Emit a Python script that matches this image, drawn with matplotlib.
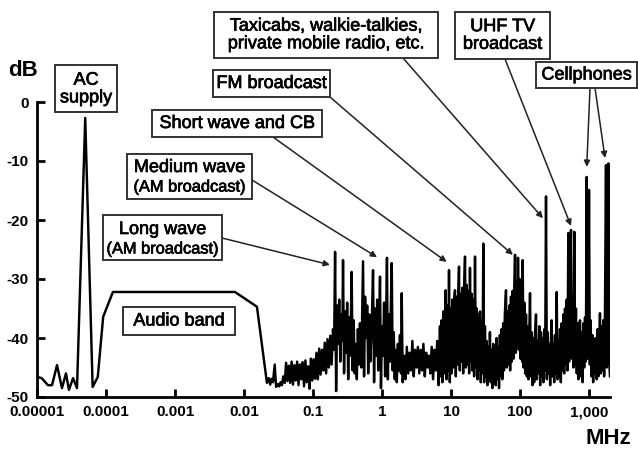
import numpy as np
import matplotlib
matplotlib.use("Agg")
import matplotlib.pyplot as plt
import matplotlib.patheffects as pe
from matplotlib.patches import Rectangle
from matplotlib.ticker import NullLocator

plt.rcParams["font.family"] = ["Liberation Sans", "DejaVu Sans"]
plt.rcParams["axes.unicode_minus"] = False

# ---------------- data ----------------
# audio / power-line part (frequency in MHz, level in dB)
low_mhz = [1.0e-5, 1.17e-5, 1.44e-5, 1.65e-5, 1.95e-5, 2.3e-5, 2.63e-5, 2.9e-5, 3.33e-5, 3.8e-5,
           5.0e-5, 6.4e-5, 7.6e-5, 9.1e-5, 1.26e-4, 7.4e-3, 1.54e-2, 2.15e-2]
low_db = [-46.6, -46.8, -48.0, -48.0, -44.6, -48.5, -46.0, -48.8, -46.8, -48.5,
          -2.7, -48.3, -46.6, -36.4, -32.2, -32.2, -34.7, -47.6]

# radio part: frequency stored as log10(MHz)
vlf_log = [-1.64, -1.62, -1.60, -1.58, -1.555, -1.535, -1.51, -1.49, -1.47, -1.45,
           -1.43, -1.41, -1.39, -1.37, -1.35, -1.33, -1.31, -1.29, -1.27, -1.25,
           -1.23, -1.21, -1.19, -1.17, -1.15, -1.13, -1.11, -1.09, -1.07, -1.05,
           -1.03, -1.01, -0.99, -0.97, -0.95, -0.93, -0.91, -0.89, -0.87, -0.85,
           -0.83, -0.81, -0.79, -0.77, -0.75, -0.73, -0.71]
vlf_db = [-46.8, -47.9, -46.9, -47.5, -44.5, -48.3, -47.8, -48.2, -47.5, -48.0,
          -46.5, -47.6, -44.2, -47.3, -44.7, -47.6, -44.0, -47.9, -44.6, -47.2,
          -44.0, -48.0, -44.5, -47.0, -44.1, -48.2, -43.8, -47.5, -44.8, -48.6,
          -43.5, -47.2, -43.6, -46.9, -42.5, -47.0, -41.8, -46.2, -42.0, -45.5,
          -40.8, -46.0, -40.2, -45.0, -39.6, -44.5, -38.5]

am_log = [-0.695, -0.68, -0.665, -0.65, -0.635, -0.62, -0.605, -0.59, -0.575, -0.565,
          -0.55, -0.535, -0.52, -0.505, -0.49, -0.475, -0.46, -0.44, -0.425, -0.41,
          -0.395, -0.38, -0.365, -0.35, -0.335, -0.32, -0.30, -0.275, -0.26, -0.245,
          -0.23, -0.215, -0.20, -0.185, -0.17, -0.15, -0.13, -0.115, -0.10, -0.085,
          -0.07, -0.055, -0.04, -0.029, -0.015, 0.0, 0.015, 0.03, 0.045, 0.06,
          0.072, 0.085, 0.10, 0.115, 0.13, 0.141, 0.155, 0.17, 0.185, 0.20,
          0.215, 0.23, 0.245, 0.26, 0.275, 0.286, 0.30]
am_db = [-42.0, -25.4, -49.0, -34.5, -41.0, -33.5, -44.0, -36.0, -40.5, -26.8,
         -46.0, -35.5, -42.5, -34.0, -47.0, -36.5, -43.0, -28.8, -45.5, -37.0,
         -46.0, -41.0, -47.0, -38.5, -44.5, -37.5, -45.0, -27.0, -46.5, -33.0,
         -40.0, -34.5, -46.0, -36.0, -44.0, -38.5, -28.5, -47.5, -35.0, -43.0,
         -33.5, -45.5, -37.0, -29.6, -48.5, -38.0, -43.0, -34.0, -46.5, -36.5,
         -26.4, -47.0, -36.0, -44.0, -33.5, -27.3, -45.5, -39.0, -47.0, -42.0,
         -47.5, -41.0, -45.5, -39.5, -46.0, -32.4, -47.5]

hf_log = [0.32, 0.34, 0.36, 0.38, 0.40, 0.42, 0.44, 0.46, 0.48, 0.50,
          0.52, 0.54, 0.56, 0.58, 0.60, 0.62, 0.64, 0.66, 0.68, 0.70,
          0.72, 0.74, 0.76, 0.78, 0.80, 0.82, 0.84]
hf_db = [-43.0, -47.0, -41.5, -46.0, -42.5, -45.5, -40.5, -46.5, -42.0, -45.0,
         -41.5, -46.0, -42.0, -45.5, -41.0, -46.5, -42.5, -45.0, -43.0, -46.0,
         -41.5, -47.0, -42.0, -45.5, -40.5, -48.0, -38.0]

sw_log = [0.852, 0.864, 0.876, 0.888, 0.900, 0.912, 0.923, 0.935, 0.947, 0.959,
          0.971, 0.983, 0.995, 1.007, 1.019, 1.031, 1.043, 1.058, 1.070, 1.082,
          1.094, 1.106, 1.116, 1.128, 1.140, 1.152, 1.164, 1.176, 1.188, 1.203,
          1.215, 1.227, 1.239, 1.251, 1.263, 1.275, 1.287, 1.299, 1.311, 1.323,
          1.335, 1.348, 1.360, 1.372, 1.384, 1.396, 1.408, 1.420, 1.432, 1.444,
          1.456, 1.468, 1.480, 1.492]
sw_db = [-46.5, -37.0, -47.5, -35.5, -46.0, -36.5, -31.9, -47.0, -34.5, -45.5,
         -28.5, -47.5, -35.0, -46.0, -33.5, -45.0, -34.0, -31.9, -46.5, -33.0,
         -44.5, -32.0, -27.9, -45.5, -32.5, -44.0, -31.5, -46.0, -32.0, -26.2,
         -45.0, -31.0, -44.5, -32.0, -46.0, -28.1, -44.0, -32.5, -45.5, -33.5,
         -46.5, -26.2, -45.0, -35.0, -47.0, -36.0, -45.5, -35.5, -47.5, -37.0,
         -46.0, -24.0, -47.5, -38.0]

vhf_log = [1.504, 1.516, 1.528, 1.540, 1.552, 1.564, 1.576, 1.588, 1.600, 1.612,
           1.624, 1.636, 1.648, 1.660, 1.672, 1.684, 1.696, 1.708, 1.720, 1.732,
           1.744, 1.756, 1.768, 1.780, 1.797, 1.809, 1.821, 1.833, 1.845, 1.857,
           1.869, 1.881, 1.893, 1.905, 1.917, 1.928, 1.940, 1.952, 1.964, 1.971,
           1.983, 1.995, 2.007, 2.019, 2.031, 2.039, 2.051, 2.063, 2.075, 2.087,
           2.099, 2.111, 2.123, 2.145, 2.157, 2.169, 2.181, 2.193, 2.205, 2.217,
           2.232, 2.244, 2.256, 2.268, 2.280, 2.292, 2.304, 2.316, 2.328, 2.340,
           2.352, 2.364]
vhf_db = [-46.5, -40.5, -48.0, -41.5, -46.5, -39.0, -47.5, -42.0, -48.5, -41.0,
          -46.0, -42.5, -48.0, -40.0, -47.0, -41.5, -48.5, -39.5, -46.5, -38.5,
          -47.0, -37.5, -45.5, -36.0, -31.9, -45.0, -35.5, -44.5, -34.5, -45.5,
          -33.0, -44.0, -32.0, -43.5, -31.0, -25.9, -42.5, -30.5, -41.0, -26.4,
          -42.0, -30.0, -43.5, -31.5, -44.0, -26.8, -45.0, -34.0, -46.0, -36.0,
          -46.5, -38.0, -47.0, -32.4, -46.5, -39.0, -48.0, -40.0, -47.5, -39.5,
          -36.0, -47.0, -40.5, -46.0, -38.0, -48.0, -39.0, -46.5, -40.0, -47.5,
          -38.5, -45.5]

uhf_log = [2.377, 2.389, 2.401, 2.413, 2.425, 2.437, 2.449, 2.459, 2.471, 2.483,
           2.495, 2.507, 2.519, 2.532, 2.544, 2.556, 2.568, 2.580, 2.592, 2.604,
           2.616, 2.628, 2.640, 2.652, 2.664, 2.676, 2.688, 2.700, 2.712, 2.724,
           2.739, 2.751, 2.763, 2.775, 2.787, 2.799, 2.811, 2.823, 2.835, 2.847,
           2.859, 2.870, 2.882, 2.894, 2.906, 2.918, 2.930, 2.942, 2.954, 2.967,
           2.979, 2.991, 3.000, 3.012, 3.024, 3.036, 3.048, 3.060, 3.072, 3.084,
           3.096, 3.112, 3.124, 3.136, 3.159, 3.171, 3.183, 3.195, 3.207, 3.219,
           3.231, 3.246, 3.258, 3.270, 3.280, 3.292, 3.304]
uhf_db = [-16.0, -47.0, -39.0, -46.0, -41.0, -48.0, -40.0, -37.0, -46.5, -41.0,
          -47.5, -39.5, -46.0, -32.2, -47.0, -40.5, -46.5, -38.5, -47.5, -37.5,
          -45.5, -36.0, -46.0, -35.0, -44.5, -33.5, -45.5, -22.2, -44.0, -32.0,
          -21.7, -43.5, -33.0, -45.0, -22.0, -44.5, -35.0, -46.0, -37.5, -47.0,
          -38.0, -37.0, -46.5, -39.0, -47.5, -37.5, -45.0, -36.5, -44.0, -12.7,
          -43.5, -35.0, -14.9, -44.5, -37.0, -46.5, -39.5, -47.5, -41.0, -46.0,
          -40.0, -47.0, -38.5, -46.5, -35.8, -46.0, -38.0, -45.5, -37.0, -46.5,
          -36.0, -10.7, -45.0, -35.0, -10.4, -44.0, -46.5]

xtick_mhz = [1e-5, 1e-4, 1e-3, 1e-2, 1e-1, 1, 10, 100, 1000]
xtick_labels = ["0.00001", "0.0001", "0.001", "0.01", "0.1", "1", "10", "100", "1,000"]
ytick_db = [0, -10, -20, -30, -40, -50]
ytick_labels = ["0", "-10", "-20", "-30", "-40", "-50"]

# annotation targets (MHz, dB) on the spectrum
arrow_tip_mhz = [0.176, 0.847, 8.67, 79.0, 215.0, 548.0, 927.0, 1706.0]
arrow_tip_db = [-27.6, -26.3, -27.1, -25.9, -19.7, -21.0, -11.0, -9.5]

# ---------------- figure ----------------
W, H = 638, 450
fig = plt.figure(figsize=(W / 100, H / 100), dpi=100)
ax = fig.add_axes([37 / W, 53 / H, 573 / W, 295 / H])

rf_log = vlf_log + am_log + hf_log + sw_log + vhf_log + uhf_log
rf_db = vlf_db + am_db + hf_db + sw_db + vhf_db + uhf_db
freq = np.concatenate([np.array(low_mhz), 10.0 ** np.array(rf_log)])
level = np.array(low_db + rf_db)

ax.plot(freq, level, color="black", lw=1.75, solid_joinstyle="round")

ax.set_xscale("log")
ax.set_xlim(1e-5, 2015)
ax.set_ylim(-50, 0)
ax.xaxis.set_minor_locator(NullLocator())
ax.set_xticks(xtick_mhz)
ax.set_xticklabels(xtick_labels)
ax.set_yticks(ytick_db)
ax.set_yticklabels(ytick_labels)
for s in ["top", "right"]:
    ax.spines[s].set_visible(False)
for s in ["left", "bottom"]:
    ax.spines[s].set_linewidth(2.0)
ax.tick_params(direction="in", length=6, width=2.0, labelsize=11, pad=6)
for lab in ax.get_xticklabels() + ax.get_yticklabels():
    lab.set_fontweight("bold")

thick = [pe.withStroke(linewidth=0.5, foreground="black")]


def fx(x):
    return x / W


def fy(y):
    return 1 - y / H


def box(x0, y0, x1, y1):
    r = Rectangle((fx(x0), fy(y1)), (x1 - x0) / W, (y1 - y0) / H,
                  transform=fig.transFigure, facecolor="white",
                  edgecolor="#333333", lw=1.4, zorder=5)
    fig.add_artist(r)


def label(cx, cy, s, size=13, **kw):
    fig.text(fx(cx), fy(cy), s, ha="center", va="center", fontsize=size,
             zorder=6, path_effects=thick, **kw)


def arrow(i, tx, ty):
    ax.annotate("", xy=(arrow_tip_mhz[i], arrow_tip_db[i]), xycoords="data",
                xytext=(fx(tx), fy(ty)), textcoords="figure fraction",
                arrowprops=dict(arrowstyle="-|>", color="#222222", lw=1.1,
                                mutation_scale=9, shrinkA=0, shrinkB=0),
                annotation_clip=False, zorder=4)


# boxes and texts
box(55, 65, 117, 112)
label(86, 89, "AC\nsupply", linespacing=1.05)

box(103, 215, 222, 260)
label(162.5, 229.5, "Long wave")
label(162.5, 249, "(AM broadcast)", size=11.8)

box(127, 154, 252, 199)
label(189.5, 167.5, "Medium wave")
label(189.5, 187, "(AM broadcast)", size=11.8)

box(152, 110, 322, 137)
label(237, 123.5, "Short wave and CB")

box(213, 70, 330, 97)
label(271.5, 83.5, "FM broadcast")

box(214, 12, 438, 58)
label(326, 35, "Taxicabs, walkie-talkies,\nprivate mobile radio, etc.", linespacing=1.05)

box(455, 12, 550, 59)
label(502.5, 35.5, "UHF TV\nbroadcast", linespacing=1.05)

box(536, 62, 637, 88)
label(586.5, 75, "Cellphones")

box(123, 307, 235, 335)
label(179, 321, "Audio band")

# arrows
arrow(0, 222, 238)
arrow(1, 252, 180)
arrow(2, 273, 137)
arrow(3, 330, 97)
arrow(4, 403, 58)
arrow(5, 505, 59)
arrow(6, 590, 88)
arrow(7, 595, 88)

# axis titles
fig.text(fx(23), fy(70), "dB", ha="center", va="center", fontsize=16, fontweight="bold")
fig.text(fx(608), fy(438), "MHz", ha="center", va="center", fontsize=16, fontweight="bold")

fig.savefig("out.png", dpi=100)
